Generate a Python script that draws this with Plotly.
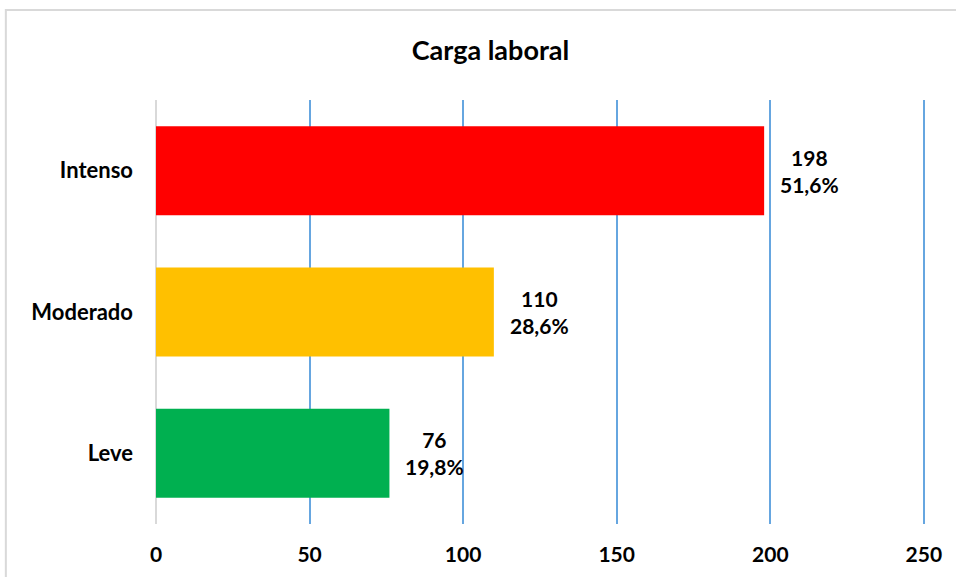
import plotly.graph_objects as go

categories = ["Leve", "Moderado", "Intenso"]
values = [76, 110, 198]
percents = ["19,8%", "28,6%", "51,6%"]
colors = ["#00B050", "#FFC000", "#FF0000"]
x_ticks = [0, 50, 100, 150, 200, 250]

FONT = "Lato"
X_MAX = 252  # slight headroom so the 250 gridline is drawn

fig = go.Figure()
fig.add_trace(go.Bar(
    y=categories, x=values, orientation="h",
    marker=dict(color=colors, line=dict(width=0)),
    width=0.63, hoverinfo="skip", cliponaxis=False,
))

for c, v, p in zip(categories, values, percents):
    fig.add_annotation(
        x=v, y=c, xref="x", yref="y",
        text=f"{v}<br>{p}", showarrow=False,
        xanchor="left", align="center", xshift=14,
        font=dict(family=FONT, size=21, color="black", weight="bold"),
    )

# outer chart border
fig.add_shape(type="rect", xref="paper", yref="paper",
              x0=-0.194, x1=1.3, y0=-0.3, y1=1.212,
              line=dict(color="#d9d9d9", width=2), layer="below")

fig.update_layout(
    width=956, height=577,
    margin=dict(l=156, r=26, t=100, b=53),
    paper_bgcolor="white", plot_bgcolor="white",
    showlegend=False,
    title=dict(text="Carga laboral", x=0.513, xref="container", xanchor="center",
               y=0.913, yref="container", yanchor="middle",
               font=dict(family=FONT, size=27, color="black", weight="bold")),
    xaxis=dict(range=[0, X_MAX], tickvals=x_ticks, showgrid=True,
               gridcolor="#66A6E0", gridwidth=2,
               zeroline=True, zerolinecolor="#d9d9d9", zerolinewidth=2,
               showline=False, ticks="", ticklabelstandoff=16,
               tickfont=dict(family=FONT, size=21, color="black", weight="bold")),
    yaxis=dict(showgrid=False, showline=False, ticks="", ticklabelstandoff=22,
               tickfont=dict(family=FONT, size=22, color="black", weight="bold")),
    bargap=0.37,
)

fig.write_html("out.html", config={"displayModeBar": False},
               post_script="document.body.style.margin='0';document.body.style.overflow='hidden';")
